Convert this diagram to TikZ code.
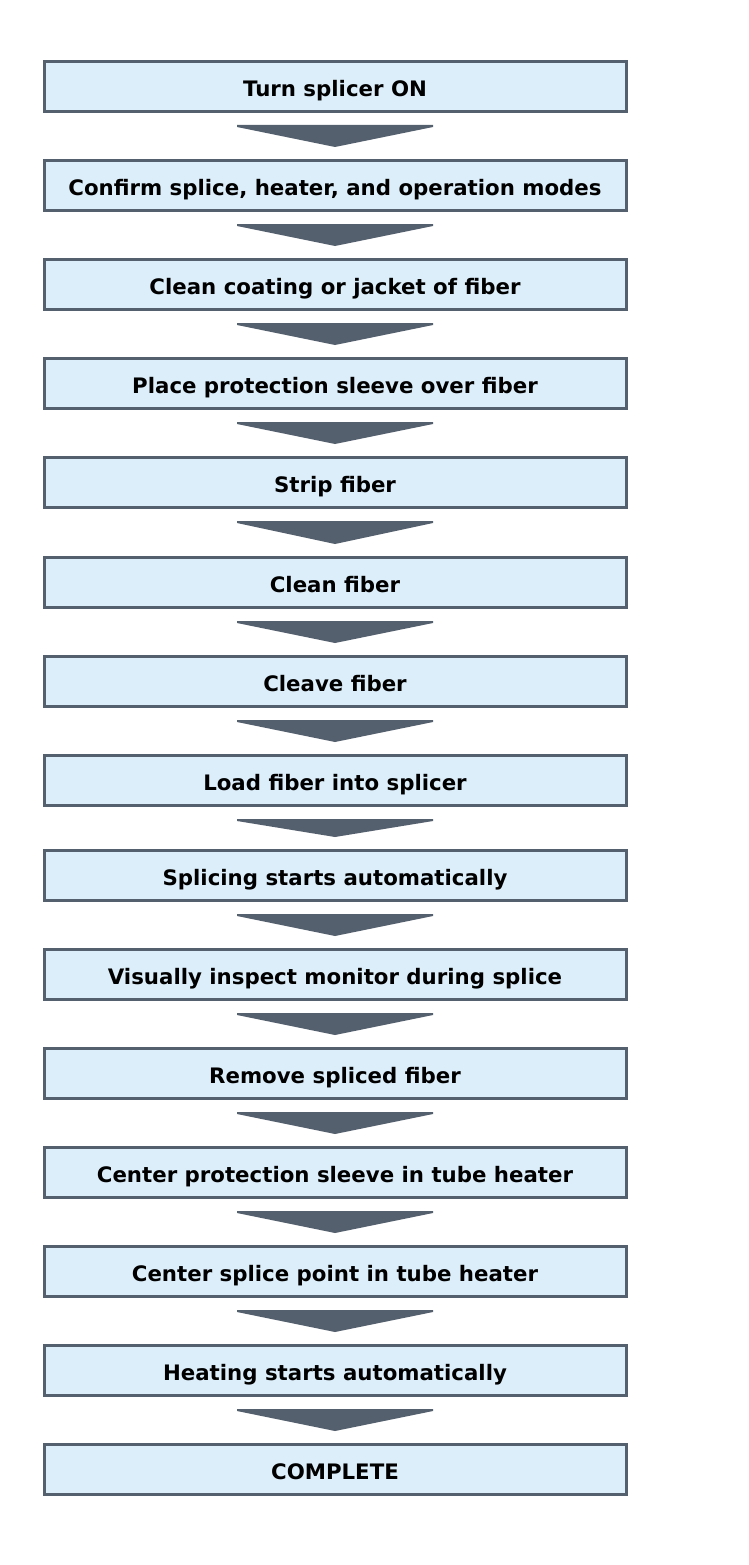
\documentclass[tikz,border=0pt]{standalone}
\usepackage{fontspec}
\setmainfont{DejaVu Sans}
\definecolor{edge}{HTML}{55606E}
\definecolor{boxfill}{HTML}{DCEEFA}
\begin{document}
\begin{tikzpicture}[x=1pt,y=1pt,
  stepbox/.style={draw=edge,fill=boxfill,line width=3pt,minimum width=582pt,minimum height=50pt,inner sep=0pt,text height=19.5pt,text depth=0pt,font=\fontsize{21.3}{24}\selectfont\bfseries},
  chev/.style={fill=edge,draw=none}]
\useasboundingbox (0,0) rectangle (749,-1565);
\fill[white] (0,0) rectangle (749,-1565);
\foreach \i/\y/\t in {
 1/86.5/{Turn splicer ON},
 2/185.5/{Confirm splice, heater, and operation modes},
 3/284.5/{Clean coating or jacket of fiber},
 4/383.5/{Place protection sleeve over fiber},
 5/482.5/{Strip fiber},
 6/582.5/{Clean fiber},
 7/681.5/{Cleave fiber},
 8/780.5/{Load fiber into splicer},
 9/875.5/{Splicing starts automatically},
 10/974.5/{Visually inspect monitor during splice},
 11/1073.5/{Remove spliced fiber},
 12/1172.5/{Center protection sleeve in tube heater},
 13/1271.5/{Center splice point in tube heater},
 14/1370.5/{Heating starts automatically},
 15/1469.5/{COMPLETE}}{
  \node[stepbox] (b\i) at (335,-\y) {\t};
}
\foreach \a/\b in {1/2,2/3,3/4,4/5,5/6,6/7,7/8,8/9,9/10,10/11,11/12,12/13,13/14,14/15}{
  \path[chev] ([shift={(-98,-12)}]b\a.south) -- ([shift={(98,-12)}]b\a.south) -- ([shift={(98,-14)}]b\a.south) -- ([shift={(0,12)}]b\b.north) -- ([shift={(-98,-14)}]b\a.south) -- cycle;
}
\end{tikzpicture}
\end{document}
